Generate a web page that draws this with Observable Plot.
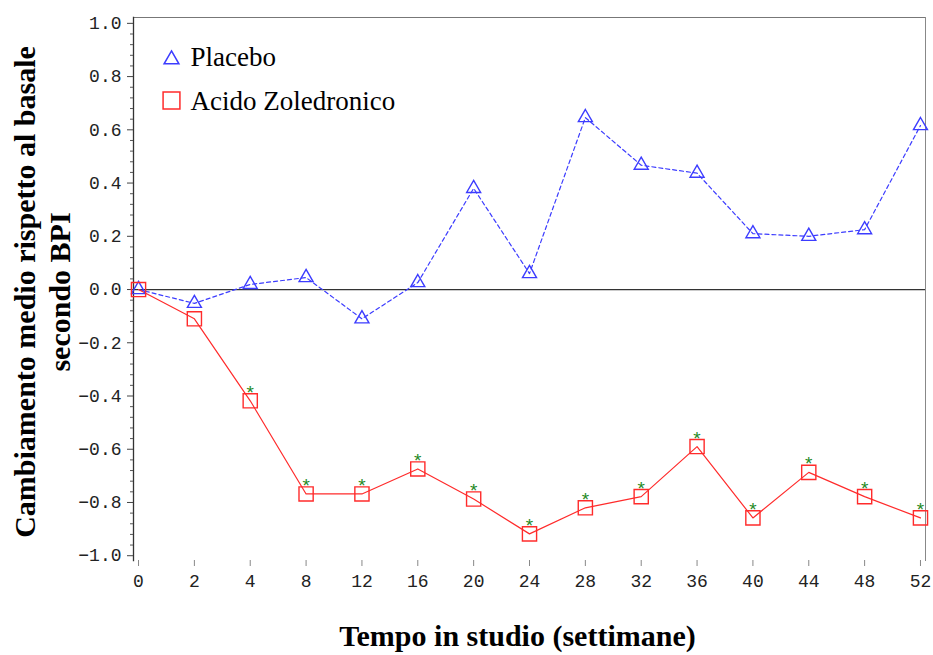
<!DOCTYPE html>
<html><head><meta charset="utf-8">
<script src="https://cdn.jsdelivr.net/npm/d3@7"></script>
<script src="https://cdn.jsdelivr.net/npm/@observablehq/plot@0.6"></script>
<style>body{margin:0;background:#fff}#chart svg{display:block}</style>
</head><body><div id="chart"></div>
<script>
const weeks = [0, 2, 4, 8, 12, 16, 20, 24, 28, 32, 36, 40, 44, 48, 52];
const placebo = [0, -0.052, 0.019, 0.045, -0.11, 0.026, 0.38, 0.06, 0.646, 0.467, 0.437, 0.21, 0.20, 0.225, 0.616];
const zoledronico = [0, -0.11, -0.418, -0.768, -0.768, -0.674, -0.787, -0.918, -0.82, -0.778, -0.59, -0.858, -0.687, -0.778, -0.858];
const significant = [false, false, true, true, true, true, true, true, true, true, true, true, true, true, true];
const yTicks = [-1.0, -0.8, -0.6, -0.4, -0.2, 0.0, 0.2, 0.4, 0.6, 0.8, 1.0];
const seriesNames = ["Placebo", "Acido Zoledronico"];
const xTitle = "Tempo in studio (settimane)";
const yTitle1 = "Cambiamento medio rispetto al basale";
const yTitle2 = "secondo BPI";

const blue = "#3c3cff";
const red = "#ff2b2b";
const green = "#1f8a1f";

const pData = weeks.map((w, i) => ({week: w, value: placebo[i]}));
const zData = weeks.map((w, i) => ({week: w, value: zoledronico[i], sig: significant[i]}));
const minorTicks = d3.range(-1, 1.0001, 0.04).map(v => Math.round(v * 100) / 100)
  .filter(v => !yTicks.some(t => Math.abs(t - v) < 1e-6));

const serif = "'Liberation Serif', 'Times New Roman', serif";
const mono = "'Liberation Mono', 'Courier New', monospace";

const chart = Plot.plot({
  width: 933,
  height: 655,
  marginLeft: 133,
  marginRight: 8,
  marginTop: 17,
  marginBottom: 95,
  style: {background: "#fff", overflow: "visible"},
  x: {type: "point", domain: weeks, padding: 0.09, round: false},
  y: {domain: [-1.018, 1.022]},
  marks: [
    Plot.frame({anchor: "top", stroke: "#777"}),
    Plot.frame({anchor: "right", stroke: "#888"}),
    Plot.frame({anchor: "left", stroke: "#333", strokeWidth: 1.3}),
    Plot.axisY({ticks: yTicks, tickSize: 6, tickPadding: 6, tickFormat: d3.format(".1f"),
      fontSize: 18, fontFamily: mono, fill: "#222", stroke: "#444", label: null}),
    Plot.axisY({ticks: minorTicks, tickSize: 3, tickFormat: () => "", stroke: "#555", label: null}),
    Plot.axisX({ticks: weeks, tickSize: 6, tickPadding: 8, fontSize: 18, fontFamily: mono,
      fill: "#222", stroke: "#888", label: null}),
    Plot.ruleY([0], {stroke: "#333", strokeWidth: 1.2}),
    Plot.line(pData, {x: "week", y: "value", stroke: blue, strokeWidth: 1.2, strokeDasharray: "4,3"}),
    Plot.line(zData, {x: "week", y: "value", stroke: red, strokeWidth: 1.2}),
    Plot.dot(pData, {x: "week", y: "value", symbol: "triangle", r: 5.2, stroke: blue, fill: "none", strokeWidth: 1.4}),
    Plot.dot(zData, {x: "week", y: "value", symbol: "square", r: 8, stroke: red, fill: "none", strokeWidth: 1.4}),
    Plot.text(zData.filter(d => d.sig), {x: "week", y: "value", text: () => "*", fill: green,
      fontSize: 19, fontFamily: "'Liberation Sans', Arial, sans-serif", dy: -8}),
    // legend
    Plot.dot([seriesNames[0]], {frameAnchor: "top-left", dx: 38, dy: 42, symbol: "triangle", r: 5.5,
      stroke: blue, fill: "none", strokeWidth: 1.5}),
    Plot.dot([seriesNames[1]], {frameAnchor: "top-left", dx: 38, dy: 83, symbol: "square", r: 9.5,
      stroke: red, fill: "none", strokeWidth: 1.5}),
    Plot.text([seriesNames[0]], {frameAnchor: "top-left", dx: 57, dy: 40, text: d => d, textAnchor: "start",
      lineAnchor: "middle", fontSize: 27, fontFamily: serif, fill: "#000"}),
    Plot.text([seriesNames[1]], {frameAnchor: "top-left", dx: 57, dy: 84, text: d => d, textAnchor: "start",
      lineAnchor: "middle", fontSize: 27, fontFamily: serif, fill: "#000"}),
    // axis titles
    Plot.text([xTitle], {frameAnchor: "bottom", dx: -12, dy: 76, text: d => d, fontSize: 30,
      fontWeight: "bold", fontFamily: serif, fill: "#000", lineAnchor: "middle"}),
    Plot.text([yTitle1], {frameAnchor: "left", dx: -108, dy: 3, rotate: -90, text: d => d, fontSize: 30,
      textAnchor: "middle", lineAnchor: "middle", fontWeight: "bold", fontFamily: serif, fill: "#000"}),
    Plot.text([yTitle2], {frameAnchor: "left", dx: -73, dy: 3, rotate: -90, text: d => d, fontSize: 30,
      textAnchor: "middle", lineAnchor: "middle", fontWeight: "bold", fontFamily: serif, fill: "#000"})
  ]
});
document.getElementById("chart").appendChild(chart);
</script>
</body></html>
